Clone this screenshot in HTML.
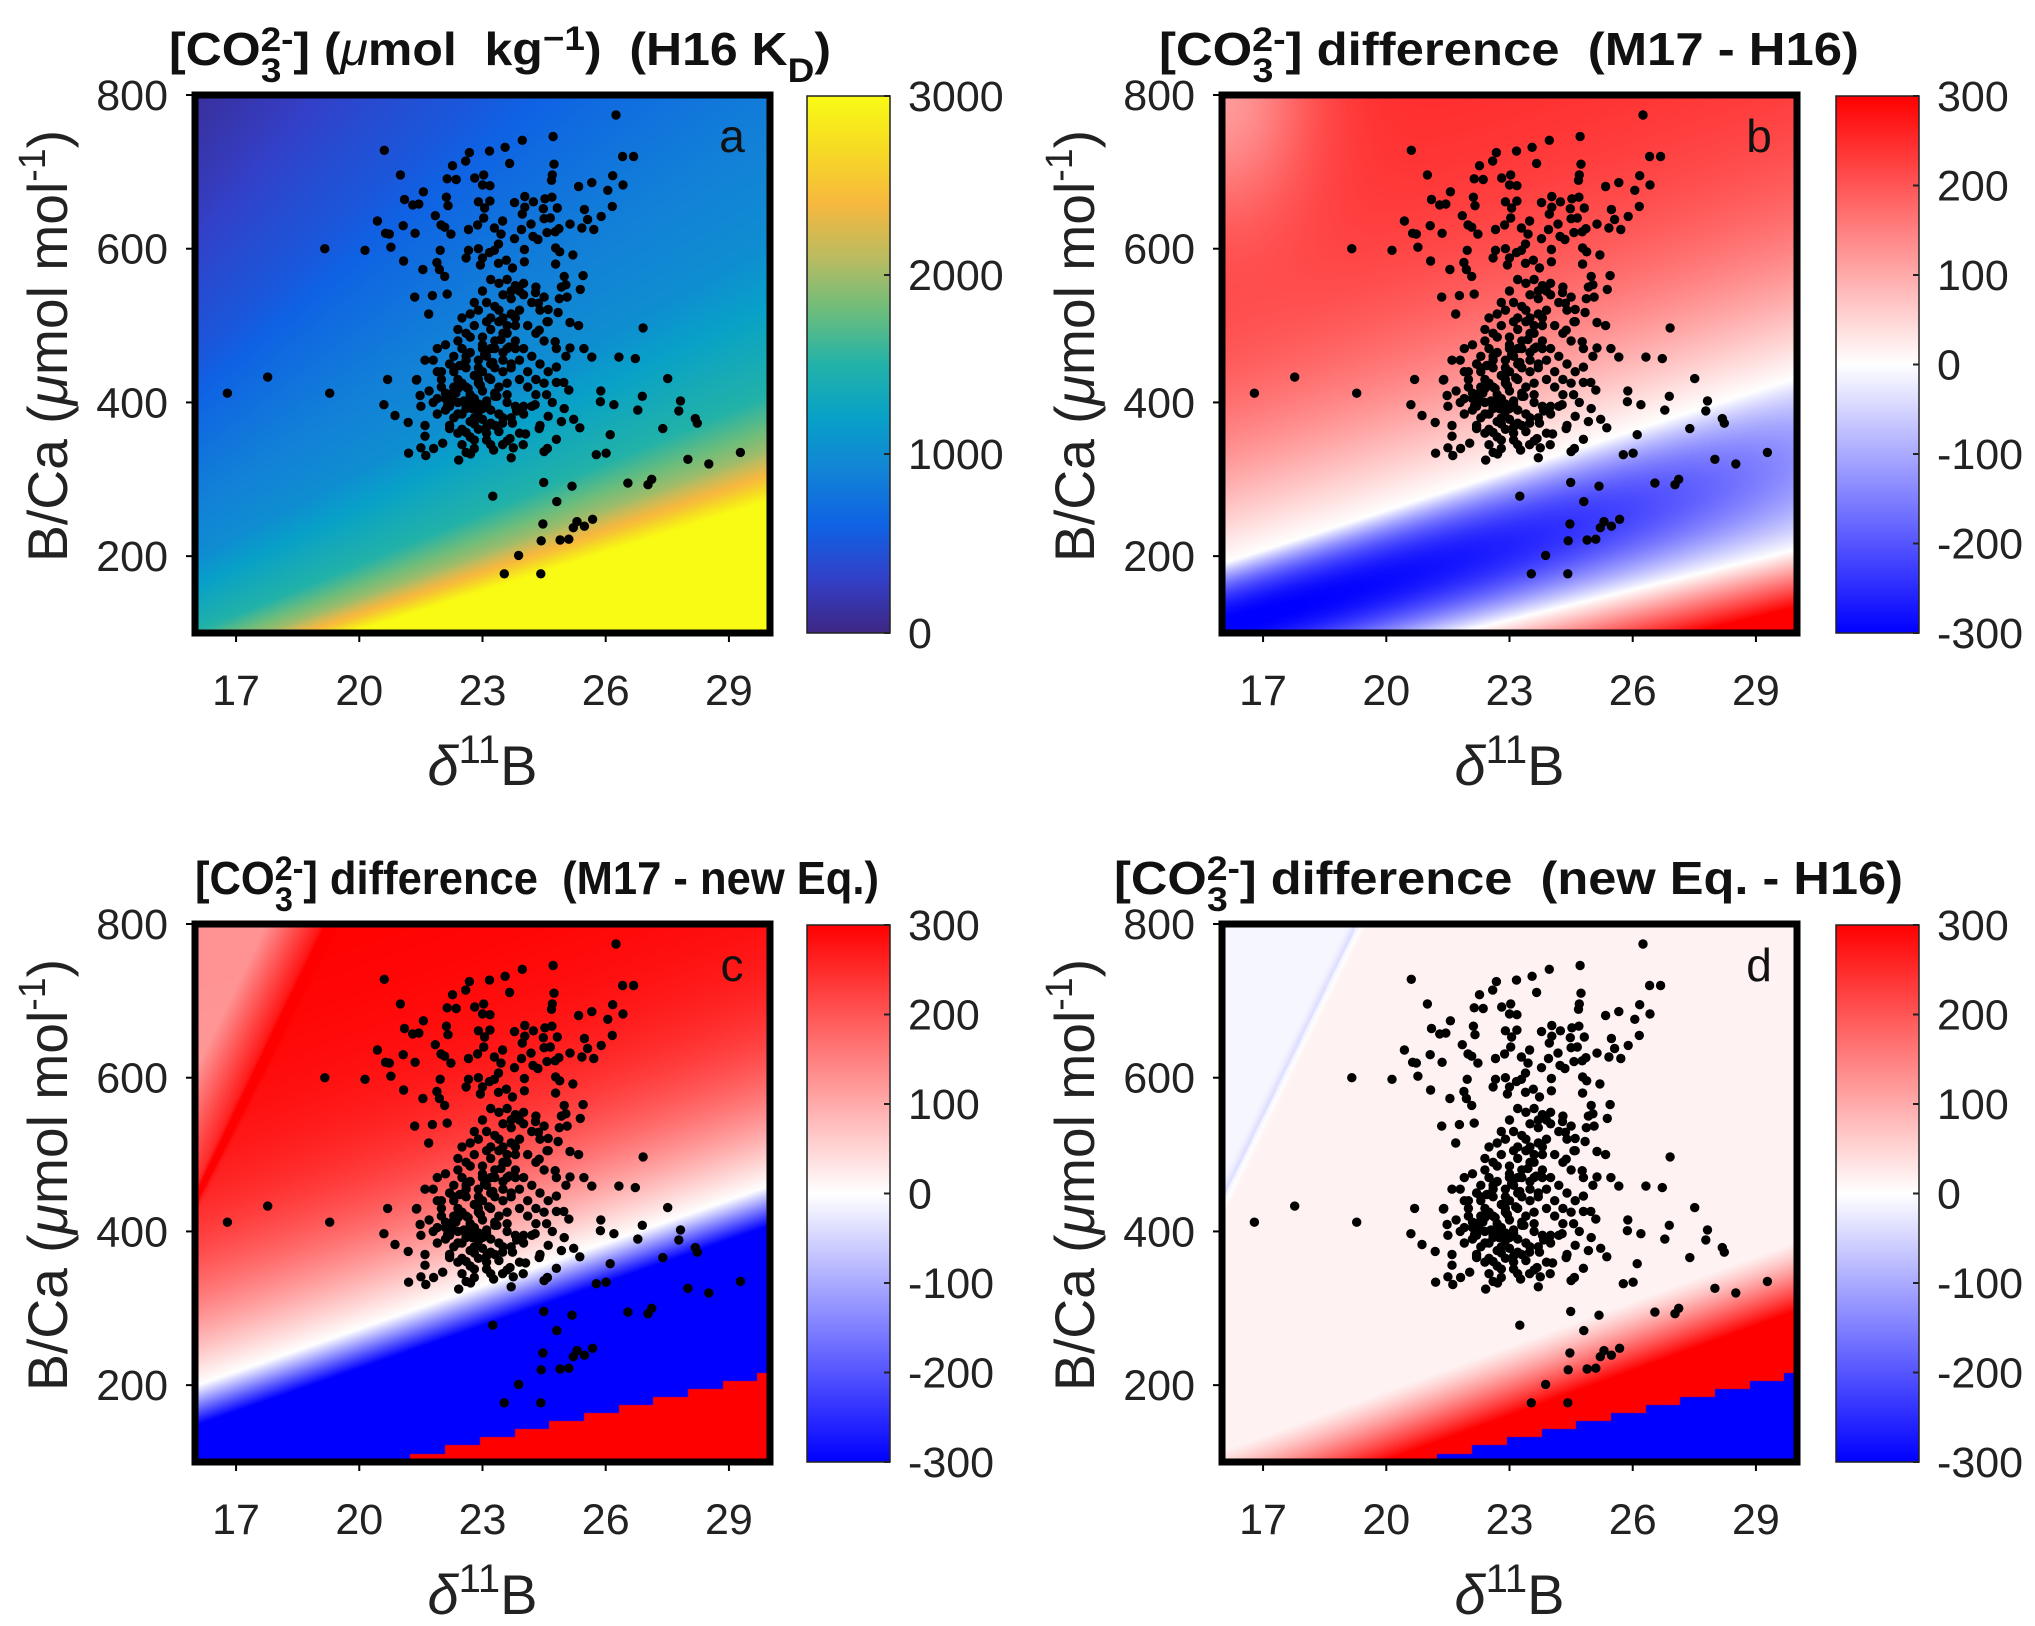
<!DOCTYPE html>
<html><head><meta charset="utf-8">
<style>
html,body{margin:0;padding:0;background:#fff;}
#fig{position:relative;width:2035px;height:1626px;overflow:hidden;background:#fff;font-family:"Liberation Sans",Arial,sans-serif;}
canvas{position:absolute;}
svg{position:absolute;left:0;top:0;}
</style></head>
<body>
<div id="fig">
<canvas id="cva" width="575" height="538" style="left:195px;top:95px"></canvas>
<canvas id="cvb" width="575" height="538" style="left:1222px;top:95px"></canvas>
<canvas id="cvc" width="575" height="538" style="left:195px;top:924px"></canvas>
<canvas id="cvd" width="575" height="538" style="left:1222px;top:924px"></canvas>
<svg id="svg" width="2035" height="1626" xmlns="http://www.w3.org/2000/svg">
<defs>
<linearGradient id="gParula" x1="0" y1="1" x2="0" y2="0">
<stop offset="0" stop-color="#3e2683"/><stop offset="0.1" stop-color="#3340c8"/><stop offset="0.2" stop-color="#0f62e4"/>
<stop offset="0.3" stop-color="#1283d6"/><stop offset="0.4" stop-color="#08a1c8"/><stop offset="0.5" stop-color="#22b2a8"/>
<stop offset="0.6" stop-color="#6cbd7c"/><stop offset="0.7" stop-color="#bbbb60"/><stop offset="0.8" stop-color="#f7b83e"/>
<stop offset="0.9" stop-color="#f6da24"/><stop offset="1" stop-color="#f9fb14"/>
</linearGradient>
<linearGradient id="gDiff" x1="0" y1="1" x2="0" y2="0">
<stop offset="0" stop-color="#0000ff"/><stop offset="0.5" stop-color="#ffffff"/><stop offset="1" stop-color="#ff0000"/>
</linearGradient>
</defs>
</svg>
</div>
<script>
// ---- data (delta11B, B/Ca) ----
const d11B = [16.79,17.77,19.28,19.16,20.14,20.61,21.0,21.56,21.10,21.3,21.45,20.44,21.07,20.64,20.73,20.77,21.36,21.08,21.55,21.35,
21.78,22.14,21.69,20.69,20.6,20.87,21.19,21.39,21.48,21.2,21.62,21.85,21.97,21.89,21.95,22.08,22.14,22.27,22.36,22.59,
22.68,23.17,23.55,23.97,23.66,24.72,24.74,24.7,24.68,26.25,26.41,26.68,26.17,26.42,26.05,26.16,25.66,25.34,25.48,25.56,
25.89,25.71,25.13,25.42,22.12,22.16,23.03,22.81,23.0,23.18,22.9,23.18,23.05,23.03,22.88,22.66,22.23,21.99,22.08,24.03,
23.78,24.24,24.52,24.69,24.82,24.03,23.97,24.48,24.5,24.65,24.18,23.95,23.78,23.49,23.29,23.45,23.39,23.29,22.9,22.66,
22.6,23.0,23.17,22.95,23.39,23.58,23.73,24.02,24.02,24.23,24.35,24.57,24.77,24.86,24.88,25.2,24.78,24.78,24.99,24.92,
25.03,25.45,25.38,25.06,24.87,24.5,24.29,24.36,24.6,24.84,25.13,25.34,26.91,24.57,24.38,24.77,25.13,25.47,25.66,26.32,
26.72,25.03,24.8,24.8,24.98,25.1,25.88,25.87,26.2,26.89,26.78,27.51,27.82,27.78,28.18,28.23,27.39,29.28,28.51,28.0,
25.77,26.01,26.11,25.37,25.22,24.99,24.92,24.6,24.28,24.56,24.38,24.8,24.5,24.58,24.05,23.99,23.7,23.75,23.49,23.67,
23.83,23.73,23.25,24.49,25.18,24.81,26.54,27.03,27.12,25.68,25.48,25.3,25.21,24.47,24.43,24.89,25.1,23.88,23.53,24.42,
22.42,22.71,21.6,21.81,21.5,22.03,22.2,22.6,22.8,23.1,23.2,23.49,23.27,22.6,
22.0,22.2,22.4,22.6,22.8,23.0,22.1,22.3,22.5,22.7,22.9,23.1,22.0,22.2,22.4,22.6,22.8,23.0,23.2,23.4,
22.3,22.5,22.7,22.9,23.1,23.3,23.5,22.6,22.8,23.0,23.2,23.4,23.6,23.8,22.9,23.1,23.3,23.5,23.7,23.9,
23.4,23.6,23.8,24.0,24.2,24.4,24.1,24.3,24.5,24.0,24.2,24.4,24.6,23.7,23.9,24.1,24.3,23.6,23.8,24.0,
23.5,23.3,23.1,22.9,22.7,22.4,22.2,21.9,21.8,21.7,21.9,21.8,22.1,22.4,22.7,23.0,23.2,23.5,23.7,24.3,
24.6,24.8,24.5,24.7,24.2,24.4,23.9,23.6,22.5,22.8,23.2,21.6,21.5,21.4,21.6,21.9,22.3,22.9,23.3,23.0,
23.6,23.2,23.8,22.35,22.55,22.75,22.95,23.15,23.35,22.45,22.65,22.85,23.05,23.25,23.45,23.65,22.25,22.15,
22.1,22.3,22.5,22.7,22.9,23.1,23.3,23.5,23.7,22.2,22.4,22.6,22.8,23.0,23.2,23.4,23.6,22.0,22.3,22.6,
22.9,23.2,23.5,23.8,24.1,22.4,22.7,23.0,23.3,23.6,23.9,22.5,22.8,23.1,23.4,23.7,24.0,22.6,22.9,23.2,
23.5,23.8,22.2,22.5,22.8,23.1,23.4,23.7,24.0,24.3,21.9,22.1,22.4,22.7,23.0,23.3,23.6,23.9,22.3,22.6];
const bCa = [412,433,412,600,598,728,696,674,664,657,658,636,630,620,619,602,620,584,573,537,
539,541,515,430,397,383,374,429,409,334,331,643,598,582,573,564,691,708,690,714,
725,727,732,741,711,746,710,696,689,774,720,720,695,683,676,655,686,681,651,638,
642,625,632,627,667,656,696,692,683,682,661,662,653,640,631,625,619,631,628,668,
660,661,665,667,653,654,645,652,639,640,632,625,613,636,627,619,606,598,600,598,
588,588,595,579,581,585,575,583,599,616,612,621,622,626,596,592,601,580,564,550,
553,565,547,537,535,537,543,529,521,517,504,500,497,505,494,479,471,470,459,459,
457,460,446,426,426,416,415,401,397,408,390,431,402,389,379,373,366,335,320,326,
332,334,358,367,378,392,375,382,397,410,366,352,336,340,359,345,328,341,345,353,
389,373,278,296,291,271,295,293,300,248,239,245,237,242,220,221,222,201,177,177,
325,333,356,340,341,347,366,361,351,351,373,373,338,335,
420,410,400,395,405,415,390,380,385,375,388,398,440,450,430,445,435,440,430,420,
460,470,465,455,460,470,455,490,500,485,495,505,490,480,520,530,525,540,535,545,
555,560,552,540,530,520,500,490,480,470,460,450,440,445,430,420,410,410,395,385,
380,370,360,365,355,360,370,385,400,415,440,455,475,495,515,545,560,510,515,550,
505,470,425,400,395,370,360,350,345,340,345,370,395,430,455,470,420,425,445,470,
470,510,500,412,402,392,422,432,408,448,418,398,462,452,482,472,404,396,
405,415,425,410,398,402,412,440,450,395,385,392,380,378,390,385,400,430,445,420,
430,450,465,470,440,480,485,475,480,500,520,510,530,505,520,545,555,460,445,470,
490,510,370,365,372,368,362,380,395,430,405,412,418,402,392,408,425,455,440,455];
const xTicks = [17,20,23,26,29];
const yTicks = [200,400,600,800];
const cbTicksA = [0,1000,2000,3000];
const cbTicksDiff = [-300,-200,-100,0,100,200,300];

const XMIN=16, XMAX=30, YMIN=100, YMAX=800, PW=575, PH=538;
const panels = [
 {id:'a', L:195, T:95, cv:'cva', cbL:807, kind:'a'},
 {id:'b', L:1222, T:95, cv:'cvb', cbL:1836, kind:'b'},
 {id:'c', L:195, T:924, cv:'cvc', cbL:807, kind:'c'},
 {id:'d', L:1222, T:924, cv:'cvd', cbL:1836, kind:'d'}
];
function sx(p,v){return p.L + (v-XMIN)/(XMAX-XMIN)*PW;}
function sy(p,v){return p.T + (YMAX-v)/(YMAX-YMIN)*PH;}

const parula=[[62,38,131],[51,64,200],[15,98,228],[18,131,214],[8,161,200],[34,178,168],[108,189,124],[187,187,96],[247,184,62],[246,218,36],[249,251,20]];
function cParula(v){let t=Math.max(0,Math.min(1,v/3000))*10;let i=Math.min(9,Math.floor(t));let f=t-i;const a=parula[i],b=parula[i+1];return [a[0]+(b[0]-a[0])*f,a[1]+(b[1]-a[1])*f,a[2]+(b[2]-a[2])*f];}
function cDiff(v){let t=Math.max(-1,Math.min(1,v/300));if(t>0)return [255,255*(1-t),255*(1-t)];return [255*(1+t),255*(1+t),255];}

const sTab=[10,16.9,17.9,19.3,22,29.4,36,50,65,77];
const vTab=[3000,3000,2500,2000,1500,1000,850,500,250,100];
function fieldA(x,y){const s=(y+180)/(x-3.2);if(s<=sTab[0])return vTab[0];for(let i=0;i<sTab.length-1;i++){if(s<=sTab[i+1]){const f=(s-sTab[i])/(sTab[i+1]-sTab[i]);return vTab[i]+(vTab[i+1]-vTab[i])*f;}}return vTab[vTab.length-1];}
function stair(x){if(x<20.4)return -1e9;return 100.5+Math.floor((x-20.4)/0.845)*10.5;}
function fieldB(x,y){const u=y-(190+17.3*(x-16));const l=y-(100+13.1*(x-21.7));
 if(u>=0){let v=255*Math.tanh(u/260);v-=130*Math.exp(-(((x-16)/2.2)**2+((y-800)/170)**2));return v;}
 if(l>=0){const c=0.045*(1-0.055*(x-16));return Math.max(-300,-c*(-u)*l);}
 return Math.min(300,-l*4);}
function fieldC(x,y){if(y<stair(x))return 300;const u=y-(199+18.6*(x-16));
 if(u<0)return Math.max(-300,u*5.8);let v=300*Math.tanh(u/200);const s=y-(440+109*(x-16));
 if(s>0)v-=Math.min(170,s*1.0);v+=60*Math.exp(-((s/12)**2));return Math.min(300,v);}
function fieldD(x,y){if(y<stair(x))return -300;const R=100+19.5*(x-19.9);if(y<R)return 300;
 let v=15;const s=y-(440+109*(x-16));if(s>0)v=-10;v-=30*Math.exp(-((s/15)**2));
 const t=(y-R)/100;if(t<1)v=Math.max(v,300*Math.pow(1-t,1.3));return v;}

function drawField(p){const cv=document.getElementById(p.cv);const ctx=cv.getContext('2d');const img=ctx.createImageData(PW,PH);
 const f={a:fieldA,b:fieldB,c:fieldC,d:fieldD}[p.kind];const cm=p.kind==='a'?cParula:cDiff;
 for(let j=0;j<PH;j++){const y=YMAX-(j+0.5)/PH*(YMAX-YMIN);for(let i=0;i<PW;i++){const x=XMIN+(i+0.5)/PW*(XMAX-XMIN);
  const c=cm(f(x,y));const k=(j*PW+i)*4;img.data[k]=c[0];img.data[k+1]=c[1];img.data[k+2]=c[2];img.data[k+3]=255;}}
 ctx.putImageData(img,0,0);}

const NS='http://www.w3.org/2000/svg';
const svg=document.getElementById('svg');
function mk(tag,attrs,parent){const e=document.createElementNS(NS,tag);for(const k in attrs)e.setAttribute(k,attrs[k]);(parent||svg).appendChild(e);return e;}
function tsp(parent,txt,attrs){const t=document.createElementNS(NS,'tspan');for(const k in (attrs||{}))t.setAttribute(k,attrs[k]);t.textContent=txt;parent.appendChild(t);return t;}

const titles={
 a:{x:169,w:662,y:65,rest:[['] (',{}],['\u03bc',{'font-style':'italic','font-weight':'normal'}],['mol  kg',{}],['\u22121',{dy:-15,'font-size':34}],[')  (H16 K',{dy:15}],['D',{dy:17,'font-size':34}],[')',{dy:-17}]]},
 b:{x:1159,w:700,y:65,rest:[['] difference  (M17 - H16)',{}]]},
 c:{x:195,w:684,y:894,rest:[['] difference  (M17 - new Eq.)',{}]]},
 d:{x:1114,w:789,y:894,rest:[['] difference  (new Eq. - H16)',{}]]}
};

panels.forEach(p=>{
 drawField(p);
 const g=mk('g',{});
 
 
 const sg=mk('g',{fill:'#000'},g);
 
 
 for(let i=0;i<d11B.length;i++){
  const c=mk('circle',{cx:sx(p,d11B[i]).toFixed(1),cy:sy(p,bCa[i]).toFixed(1),r:4.7},sg);
  
  
 }
 const box=mk('rect',{x:p.L,y:p.T,width:PW,height:PH,fill:'none',stroke:'#000','stroke-width':7},g);
 
 
 xTicks.forEach(v=>{const X=sx(p,v);
  const tl=mk('line',{x1:X,x2:X,y1:p.T+PH+3,y2:p.T+PH+9,stroke:'#000','stroke-width':2},g);
  
  
  const t=mk('text',{x:X,y:p.T+PH+72,'text-anchor':'middle','font-size':43,fill:'#222'},g);t.textContent=v;
  
  
 });
 yTicks.forEach(v=>{const Y=sy(p,v);
  const tl=mk('line',{x1:p.L-9,x2:p.L-3,y1:Y,y2:Y,stroke:'#000','stroke-width':2},g);
  
  
  const t=mk('text',{x:p.L-27,y:Y+15,'text-anchor':'end','font-size':43,fill:'#222'},g);t.textContent=v;
  
  
 });
 const xl=mk('text',{x:p.L+PW/2,y:p.T+690,'text-anchor':'middle','font-size':56,fill:'#222'},g);
 
 
 tsp(xl,'\u03b4',{'font-style':'italic'});tsp(xl,'11',{dy:-22,'font-size':40});tsp(xl,'B',{dy:22});
 const yx=p.L-128, yy=p.T+251;
 const yl=mk('text',{x:yx,y:yy,'text-anchor':'middle','font-size':56,fill:'#222',transform:'rotate(-90 '+yx+' '+yy+')',textLength:432,lengthAdjust:'spacingAndGlyphs'},g);
 
 
 tsp(yl,'B/Ca (');tsp(yl,'\u03bc',{'font-style':'italic'});tsp(yl,'mol mol');tsp(yl,'-1',{dy:-22,'font-size':38});tsp(yl,')',{dy:22});
 const pl=mk('text',{x:p.L+PW-38,y:p.T+57,'text-anchor':'middle','font-size':46,fill:'#111'},g);pl.textContent=p.id;
 
 
 const T=titles[p.id];
 const tt=mk('text',{x:T.x,y:T.y,'font-size':46,'font-weight':'bold',fill:'#111',textLength:T.w,lengthAdjust:'spacingAndGlyphs',style:'white-space:pre'},g);
 
 
 tsp(tt,'[CO');tsp(tt,'2-',{dy:-14,'font-size':34});tsp(tt,'3',{dx:-30,dy:31,'font-size':34});
 T.rest.forEach((r,i)=>{const a=Object.assign({},r[1]);if(i===0){a.dy=-17;a.dx=11;}tsp(tt,r[0],a);});
 const isA=p.kind==='a';
 const cb=mk('rect',{x:p.cbL,y:p.T+1,width:83,height:PH-1,fill:isA?'url(#gParula)':'url(#gDiff)',stroke:'#222','stroke-width':1.5},g);
 
 
 const ticks=isA?cbTicksA:cbTicksDiff;const lo=isA?0:-300,hi=isA?3000:300;
 ticks.forEach(v=>{const Y=p.T+1+(hi-v)/(hi-lo)*(PH-1);
  const tl=mk('line',{x1:p.cbL+77,x2:p.cbL+83,y1:Y,y2:Y,stroke:'#222','stroke-width':2},g);
  
  
  const t=mk('text',{x:p.cbL+101,y:Y+15,'font-size':43,fill:'#222'},g);t.textContent=v;
  
  
 });
});
</script>
</body></html>
